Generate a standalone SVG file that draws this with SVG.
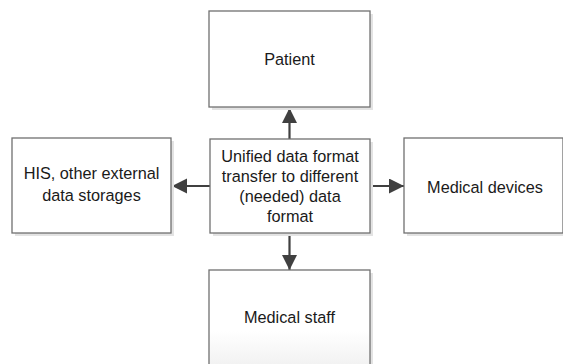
<svg xmlns="http://www.w3.org/2000/svg" width="563" height="364" viewBox="0 0 563 364">
<style>
.box{fill:#ffffff;stroke:#707070;stroke-width:1.3}
.shadow{fill:#e3e3e3}
.t{font-family:"Liberation Sans",Arial,sans-serif;font-size:16.3px;fill:#1a1a1a;text-anchor:middle}
.con{stroke:#404040;stroke-width:2.2;fill:none}
</style>
<defs>
<marker id="ah" markerUnits="userSpaceOnUse" markerWidth="16" markerHeight="16" refX="15" refY="7.5" orient="auto">
<path d="M0,0 L15,7.5 L0,15 z" fill="#404040"/>
</marker>
<linearGradient id="fade" x1="0" y1="0" x2="0" y2="1">
<stop offset="0" stop-color="#ffffff"/>
<stop offset="0.55" stop-color="#ffffff"/>
<stop offset="1" stop-color="#ececec"/>
</linearGradient>
</defs>
<g id="connectors">
<line class="con" x1="289.5" y1="139" x2="289.5" y2="108" marker-end="url(#ah)"/>
<line class="con" x1="289.5" y1="233" x2="289.5" y2="270" marker-end="url(#ah)"/>
<line class="con" x1="210" y1="186" x2="172" y2="186" marker-end="url(#ah)"/>
<line class="con" x1="370" y1="186" x2="404" y2="186" marker-end="url(#ah)"/>
</g>
<g id="patient">
<rect class="shadow" x="212" y="14" width="161" height="96"/>
<rect class="box" x="209" y="11" width="161" height="96"/>
<text class="t" x="289.5" y="65">Patient</text>
</g>
<g id="center">
<rect class="shadow" x="213" y="142" width="160" height="94"/>
<rect class="box" x="210" y="139" width="160" height="94"/>
<text class="t" x="290" y="162">Unified data format</text>
<text class="t" x="290" y="182">transfer to different</text>
<text class="t" x="290" y="202">(needed) data</text>
<text class="t" x="290" y="222">format</text>
</g>
<g id="his">
<rect class="shadow" x="15" y="141" width="159" height="95"/>
<rect class="box" x="12" y="138" width="159" height="95"/>
<text class="t" x="91.5" y="179">HIS, other external</text>
<text class="t" x="91.5" y="201">data storages</text>
</g>
<g id="devices">
<rect class="shadow" x="407" y="141" width="159" height="95"/>
<rect class="box" x="404" y="138" width="159" height="95"/>
<text class="t" x="485" y="193">Medical devices</text>
</g>
<g id="staff">
<rect class="shadow" x="212" y="273" width="161" height="110"/>
<rect class="box" x="209" y="270" width="161" height="110" fill="url(#fade)" style="fill:url(#fade)"/>
<text class="t" x="289.5" y="323">Medical staff</text>
</g>
</svg>
